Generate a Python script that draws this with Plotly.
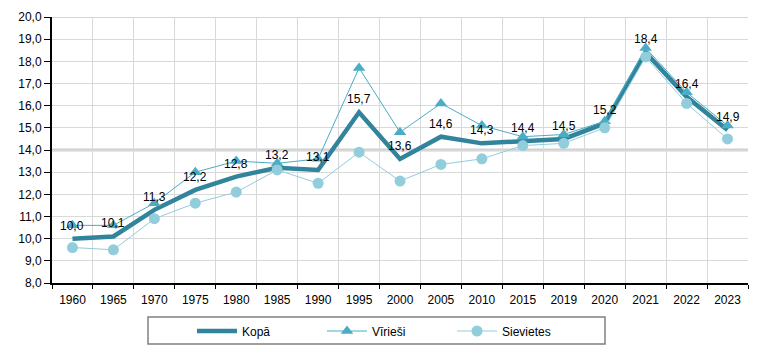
import plotly.graph_objects as go

years = ["1960", "1965", "1970", "1975", "1980", "1985", "1990", "1995", "2000",
         "2005", "2010", "2015", "2019", "2020", "2021", "2022", "2023"]
kopa = [10.0, 10.1, 11.3, 12.2, 12.8, 13.2, 13.1, 15.7, 13.6, 14.6, 14.3, 14.4, 14.5, 15.2, 18.4, 16.4, 14.9]
viriesi = [10.6, 10.6, 11.6, 13.0, 13.5, 13.4, 13.6, 17.7, 14.8, 16.1, 15.1, 14.6, 14.7, 15.3, 18.6, 16.6, 15.1]
sievietes = [9.6, 9.5, 10.9, 11.6, 12.1, 13.1, 12.5, 13.9, 12.6, 13.35, 13.6, 14.2, 14.3, 15.0, 18.2, 16.1, 14.5]
y_ticks = [8, 9, 10, 11, 12, 13, 14, 15, 16, 17, 18, 19, 20]

c_kopa = "#31849B"
c_vir = "#4BACC6"
c_sie = "#92CDDC"
font = "Liberation Sans, Arial, sans-serif"

fig = go.Figure()
fig.add_trace(go.Scatter(x=years, y=kopa, name="Kopā", mode="lines",
                         line=dict(color=c_kopa, width=4.5)))
fig.add_trace(go.Scatter(x=years, y=viriesi, name="Vīrieši", mode="lines+markers",
                         line=dict(color=c_vir, width=1),
                         marker=dict(symbol="triangle-up", size=11, color=c_vir)))
fig.add_trace(go.Scatter(x=years, y=sievietes, name="Sievietes", mode="lines+markers",
                         line=dict(color=c_sie, width=1),
                         marker=dict(symbol="circle", size=11, color=c_sie)))

for i, v in enumerate(kopa):
    fig.add_annotation(x=i, y=v, xref="x", yref="y", text=f"{v:.1f}".replace(".", ","),
                       showarrow=False, yshift=13,
                       font=dict(family=font, size=12, color="#000000"))

fig.update_layout(
    width=758, height=353,
    margin=dict(l=52, r=10, t=17, b=70),
    plot_bgcolor="white", paper_bgcolor="white",
    separators=", ",
    font=dict(family=font, size=12, color="#000000"),
    showlegend=True,
    legend=dict(orientation="h", xref="container", yref="container",
                x=192 / 758, xanchor="left", y=(353 - 331) / 353, yanchor="middle",
                font=dict(family=font, size=12, color="#000000"),
                entrywidth=75, entrywidthmode="pixels",
                bgcolor="rgba(0,0,0,0)", itemwidth=40),
    xaxis=dict(type="category", tickson="boundaries", showgrid=True, gridcolor="#D9D9D9",
               gridwidth=1, showline=True, linecolor="#000000", linewidth=2,
               ticks="outside", ticklen=4, tickcolor="#000000", tickwidth=1,
               ticklabelstandoff=5,
               tickfont=dict(family=font, size=12, color="#000000"),
               range=[-0.5, 16.5], fixedrange=True),
    yaxis=dict(range=[8, 20], tickvals=y_ticks, tickformat=".1f", showgrid=True,
               gridcolor="#D9D9D9", gridwidth=1, showline=True, linecolor="#000000",
               linewidth=2, ticks="outside", ticklen=6, tickcolor="#000000",
               tickfont=dict(family=font, size=12, color="#000000"), zeroline=False),
)

fig.add_shape(type="line", xref="paper", yref="y", x0=0, x1=1, y0=14, y1=14,
              line=dict(color="#D0D0D0", width=3), layer="below")
fig.add_shape(type="line", xref="paper", yref="y", x0=0, x1=1, y0=20, y1=20,
              line=dict(color="#D4D4D4", width=2), layer="below")
# legend frame
fig.add_shape(type="rect", xref="paper", yref="paper",
              x0=(148 - 52) / 696, x1=(605 - 52) / 696,
              y0=-(344 - 283) / 266, y1=-(317 - 283) / 266,
              line=dict(color="#808080", width=1.5), fillcolor="rgba(0,0,0,0)")

fig.write_html("out.html")
